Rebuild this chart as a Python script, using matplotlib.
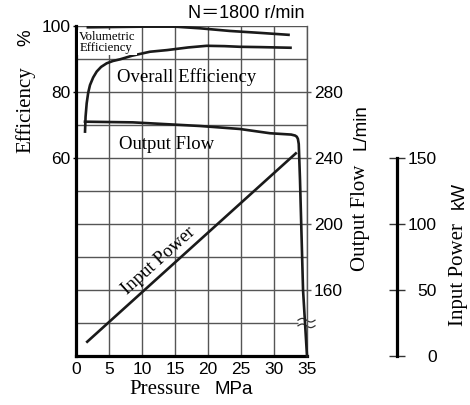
import numpy as np
import matplotlib
matplotlib.use("Agg")
import matplotlib.pyplot as plt

# ---------------- data ----------------
pressure_ticks = [0, 5, 10, 15, 20, 25, 30, 35]
eff_ticks = [60, 80, 100]
flow_ticks = [160, 200, 240, 280]
power_ticks = [0, 50, 100, 150]

vol_p = [1.6, 10.0, 15.0, 18.8, 23.3, 28.0, 32.4]
vol_eff = [99.6, 99.8, 99.8, 99.3, 98.5, 97.9, 97.3]

ovr_p = [1.36, 1.45, 1.62, 1.85, 2.12, 2.6, 3.14, 3.8, 4.65, 5.6, 6.67, 8.5,
         11.2, 13.8, 17.0, 19.8, 22.5, 24.8, 28.0, 32.7]
ovr_eff = [67.6, 72.5, 76.6, 79.8, 82.1, 84.4, 86.2, 87.6, 88.7, 89.4, 89.9, 91.0,
           92.2, 92.7, 93.5, 94.0, 93.9, 93.7, 93.6, 93.4]

flow_p = [1.36, 8.6, 18.8, 24.8, 29.4, 32.6, 33.2, 33.45, 33.62, 33.75, 33.94, 34.4, 35.0]
flow_lpm = [262.0, 261.6, 259.4, 257.6, 255.0, 254.2, 253.6, 252.9, 251.6, 248.5,
            226.7, 160.0, 120.0]

power_p = [1.7, 33.3]
power_kw = [10.8, 153.5]

SERIF = "Liberation Serif"
SANS = "Liberation Sans"
W, H = 470, 405

fig = plt.figure(figsize=(W / 100, H / 100), dpi=100)
x0, x1, y0, y1 = 76, 307, 26, 356
ax = fig.add_axes([x0 / W, 1 - y1 / H, (x1 - x0) / W, (y1 - y0) / H])

ax.set_xlim(0, 35)
ax.set_ylim(0, 100)
ax.set_xticks(pressure_ticks)
ax.set_yticks(eff_ticks)
for v in np.arange(5, 36, 5):
    ax.axvline(v, color="#555555", lw=1.0, zorder=1)
for v in np.arange(10, 101, 10):
    ax.axhline(v, color="#555555", lw=1.0, zorder=1)

for s in ["top", "right"]:
    ax.spines[s].set_visible(False)
ax.spines["left"].set_linewidth(2.3)
ax.spines["bottom"].set_linewidth(2.3)
ax.spines["left"].set_zorder(3)
ax.spines["bottom"].set_zorder(3)
ax.tick_params(axis="x", length=0, pad=4, labelsize=12.5)
ax.tick_params(axis="y", length=2, width=1, pad=2, labelsize=12.5)
for lab in ax.get_xticklabels() + ax.get_yticklabels():
    lab.set_fontfamily(SANS)

lw = 1.9
ax.plot(vol_p, vol_eff, color="#1a1a1a", lw=lw, zorder=4, solid_capstyle="butt")
ax.plot(ovr_p, ovr_eff, color="#1a1a1a", lw=lw, zorder=4, solid_capstyle="butt",
        solid_joinstyle="round")

# Output flow axis
axf = ax.twinx()
axf.set_ylim(120, 320)
axf.set_yticks(flow_ticks)
for s in ["top", "left", "bottom"]:
    axf.spines[s].set_visible(False)
axf.spines["right"].set_color("#555555")
axf.spines["right"].set_linewidth(1.0)
axf.tick_params(axis="y", length=3, width=1, color="#555555", pad=2, labelsize=12.5)
for lab in axf.get_yticklabels():
    lab.set_fontfamily(SANS)
axf.plot(flow_p, flow_lpm, color="#1a1a1a", lw=lw, zorder=4, clip_on=False,
         solid_joinstyle="round")

# Input power axis
axp = ax.twinx()
axp.set_ylim(0, 250)
axp.set_yticks(power_ticks)
for s in ["top", "left", "bottom"]:
    axp.spines[s].set_visible(False)
axp.spines["right"].set_position(("axes", (397 - x0) / (x1 - x0)))
axp.spines["right"].set_bounds(0, 150)
axp.spines["right"].set_linewidth(2.3)
axp.tick_params(axis="y", direction="inout", length=11, width=1, color="#333333",
                pad=23, labelsize=12.5)
for lab in axp.get_yticklabels():
    lab.set_fontfamily(SANS)
    lab.set_horizontalalignment("right")
axp.plot(power_p, power_kw, color="#1a1a1a", lw=lw, zorder=4)

# axis break symbol on output flow scale
tA = ax.transAxes
bx = np.linspace((298 - x0) / (x1 - x0), (315 - x0) / (x1 - x0), 40)
by = (y1 - 323) / (y1 - y0)
amp = 1.8 / (y1 - y0)
off = 2.8 / (y1 - y0)
wave = amp * np.sin((bx - bx[0]) / (bx[-1] - bx[0]) * 2 * np.pi)
ax.fill_between(bx, by - off + wave, by + off + wave, color="white", transform=tA,
                zorder=6, clip_on=False, lw=0)
ax.plot(bx, by - off + wave, color="#333333", lw=0.9, transform=tA, zorder=7, clip_on=False)
ax.plot(bx, by + off + wave, color="#333333", lw=0.9, transform=tA, zorder=7, clip_on=False)

# curve labels
ax.text(0.5, 95.0, "Volumetric\nEfficiency", fontfamily=SERIF, fontsize=9.2,
        linespacing=0.85, ha="left", va="center", zorder=8,
        bbox=dict(facecolor="white", edgecolor="none", pad=1.0))
ax.text(16.8, 84.5, "Overall Efficiency", fontfamily=SERIF, fontsize=13.5,
        ha="center", va="center", zorder=5)
ax.text(13.7, 64.0, "Output Flow", fontfamily=SERIF, fontsize=13.5,
        ha="center", va="center", zorder=5)


def fig_txt(px, py, s, **kw):
    fig.text(px / W, 1 - py / H, s, **kw)


fig_txt(159, 261, "Input Power", fontfamily=SERIF, fontsize=13.5, rotation=42,
        rotation_mode="anchor", ha="center", va="center")

fig_txt(305, 14, "N\uff1d1800 r/min", fontfamily=[SANS, "Noto Sans CJK JP"],
        fontsize=13, ha="right", va="center")

# axis titles
fig_txt(200, 389, "Pressure", fontfamily=SERIF, fontsize=15, ha="right", va="center")
fig_txt(215, 389, "MPa", fontfamily=SANS, fontsize=13.5, ha="left", va="center")

fig_txt(25, 110, "Efficiency", fontfamily=SERIF, fontsize=15, rotation=90,
        ha="center", va="center")
fig_txt(26, 38, "%", fontfamily=SANS, fontsize=13.5, rotation=90, ha="center", va="center")

fig_txt(361, 218, "Output Flow", fontfamily=SERIF, fontsize=15, rotation=90,
        ha="center", va="center")
fig_txt(361, 127, "L/min", fontfamily=SANS, fontsize=13.5, rotation=90,
        ha="center", va="center")

fig_txt(459, 275, "Input Power", fontfamily=SERIF, fontsize=15, rotation=90,
        ha="center", va="center")
fig_txt(459, 195, "kW", fontfamily=SANS, fontsize=13.5, rotation=90,
        ha="center", va="center")

fig.savefig("out.png", dpi=100, facecolor="white")
